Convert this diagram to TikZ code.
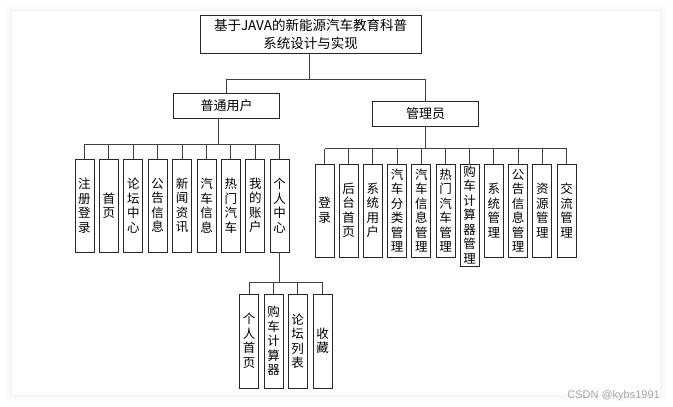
\documentclass[tikz,border=0pt]{standalone}
\usepackage{fontspec}
\newfontfamily\cjk{Noto Sans CJK SC}
\newfontfamily\wmfont{Liberation Sans}
\begin{document}
\begin{tikzpicture}[x=1pt,y=-1pt,
  line/.style={draw=black!75, line width=0.9pt},
  box/.style={draw=black!85, line width=0.9pt, fill=white, inner sep=0pt, align=center,
              font={\cjk\fontsize{13}{17.5}\selectfont}},
  vbox/.style={box, minimum width=19pt, text width=14pt,
               font={\cjk\fontsize{12.5}{14.5}\selectfont}}]
\useasboundingbox (0,0) rectangle (673,407);
% card with soft shadow
\foreach \d/\c in {6/1,4/2,2/3,1/5}{
  \fill[black!\c] (12-\d,11-\d) rectangle (660+\d,395+\d);
}
\fill[white] (12,11) rectangle (660,395);
\node[font={\wmfont\fontsize{11}{12}\selectfont}, text=black!35, anchor=east, inner sep=0pt] (wm) at (660,396) {CSDN @kybs1991};

% title
\node[box, minimum width=221pt, minimum height=38pt, font={\cjk\fontsize{13.5}{18}\selectfont}] (title) at (310.5,34)
  {基于JAVA的新能源汽车教育科普\\系统设计与实现};
\node[box, minimum width=106pt, minimum height=25pt] (user) at (226.5,105.5) {普通用户};
\node[box, minimum width=106pt, minimum height=25pt] (admin) at (425.5,113.5) {管理员};
\draw[line] (title.south -| 309,0) -- (309,79) coordinate (t1);
\draw[line] (user.north) -- (user.north |- t1) -- (admin.north |- t1) -- (admin.north);

% user children
\coordinate (ub) at (218,144);
\draw[line] (user.south -| ub) -- (ub);
\foreach \i/\t in {0/注\\册\\登\\录,1/首\\页,2/论\\坛\\中\\心,3/公\\告\\信\\息,4/新\\闻\\资\\讯,5/汽\\车\\信\\息,6/热\\门\\汽\\车,7/我\\的\\账\\户,8/个\\人\\中\\心}{
  \node[vbox, minimum height=93pt] (u\i) at (84.5+24.4*\i,205.5) {\t};
}
\draw[line] (u0.north |- ub) -- (u8.north |- ub);
\foreach \i in {0,...,8}{ \draw[line] (u\i.north) -- (u\i.north |- ub); }

% admin children
\coordinate (ab) at (426,148.5);
\draw[line] (admin.south) -- (admin.south |- ab);
\foreach \i/\t in {0/登\\录,1/后\\台\\首\\页,2/系\\统\\用\\户,3/汽\\车\\分\\类\\管\\理,4/汽\\车\\信\\息\\管\\理,5/热\\门\\汽\\车\\管\\理,7/系\\统\\管\\理,8/公\\告\\信\\息\\管\\理,9/资\\源\\管\\理,10/交\\流\\管\\理}{
  \node[vbox, minimum height=93pt] (a\i) at (324.5+24.2*\i,210.5) {\t};
}
\node[vbox, minimum height=102pt] (a6) at (324.5+24.2*6,215) {购\\车\\计\\算\\器\\管\\理};
\draw[line] (a0.north |- ab) -- (a10.north |- ab);
\foreach \i in {0,...,10}{ \draw[line] (a\i.north) -- (a\i.north |- ab); }

% personal center children
\coordinate (pb) at (280,282);
\draw[line] (u8.south) -- (u8.south |- pb);
\node[vbox, minimum height=94pt] (p0) at (249,341) {个\\人\\首\\页};
\node[vbox, minimum height=94pt] (p1) at (273.5,341) {购\\车\\计\\算\\器};
\node[vbox, minimum height=94pt] (p2) at (297.5,341) {论\\坛\\列\\表};
\node[vbox, minimum height=94pt] (p3) at (322.5,341) {收\\藏};
\draw[line] (p0.north |- pb) -- (p3.north |- pb);
\foreach \i in {0,...,3}{ \draw[line] (p\i.north) -- (p\i.north |- pb); }
\end{tikzpicture}
\end{document}
